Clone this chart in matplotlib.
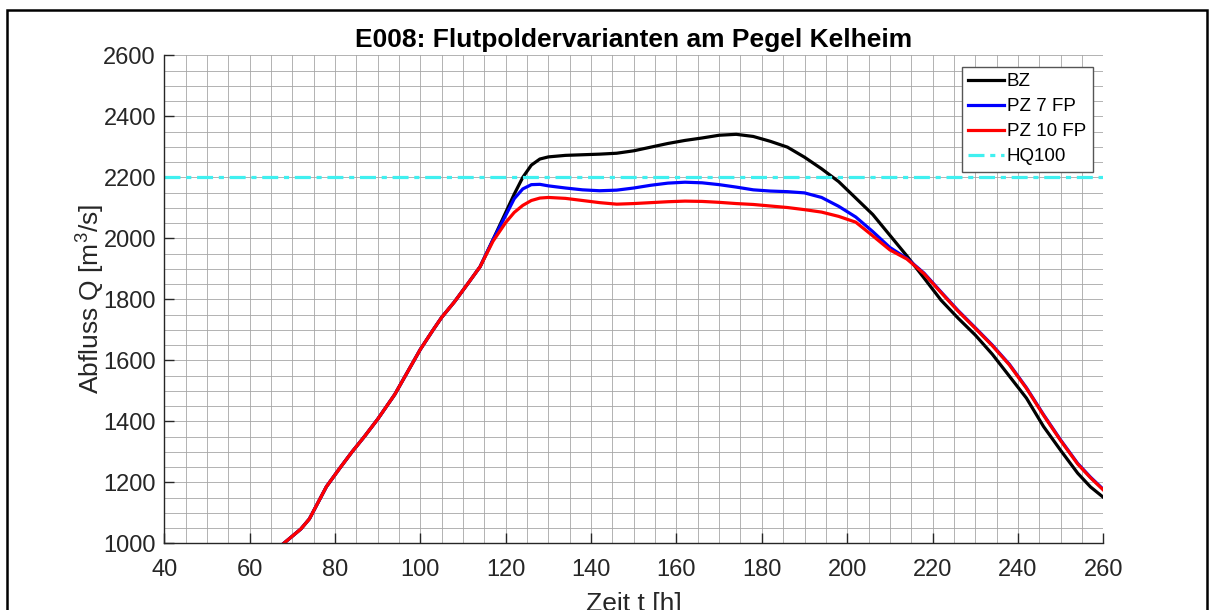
import numpy as np
import matplotlib
matplotlib.use("Agg")
import matplotlib.pyplot as plt
from matplotlib.patches import Rectangle

plt.rcParams["font.family"] = ["Liberation Sans", "DejaVu Sans"]
plt.rcParams["mathtext.fontset"] = "custom"
plt.rcParams["mathtext.rm"] = "Liberation Sans"
plt.rcParams["mathtext.it"] = "Liberation Sans:italic"

# time axis [h]
t = [68, 72, 74, 78, 81, 84, 87, 90, 94, 97, 100, 103, 105, 108, 111, 114,
     117, 120, 122, 124, 126, 128, 130, 134, 138, 142, 146, 150, 154, 158,
     162, 166, 170, 174, 178, 182, 186, 190, 194, 198, 202, 206, 210, 214,
     218, 222, 226, 230, 234, 238, 242, 246, 250, 254, 257, 260]

# rising limb shared by all variants
rise = [1000, 1047, 1080, 1186, 1244, 1300, 1352, 1407, 1488, 1562, 1636,
        1700, 1741, 1792, 1849, 1907]

q_bz = rise + [1995, 2085, 2145, 2200, 2240, 2260, 2267, 2272, 2274, 2276,
               2279, 2287, 2299, 2311, 2321, 2329, 2338, 2341, 2334, 2318,
               2299, 2266, 2228, 2186, 2132, 2078, 2010, 1942, 1870, 1797,
               1738, 1683, 1620, 1548, 1476, 1383, 1305, 1230, 1185, 1151]
q_pz7 = rise + [1995, 2075, 2130, 2162, 2176, 2177, 2172, 2165, 2159, 2156,
                2158, 2165, 2174, 2181, 2184, 2182, 2176, 2168, 2159, 2155,
                2153, 2149, 2134, 2105, 2070, 2022, 1970, 1934, 1886, 1824,
                1763, 1707, 1650, 1587, 1510, 1422, 1339, 1262, 1217, 1177]
q_pz10 = rise + [1990, 2052, 2085, 2108, 2124, 2132, 2134, 2131, 2124, 2117,
                 2112, 2114, 2117, 2120, 2122, 2121, 2118, 2114, 2111, 2106,
                 2101, 2094, 2086, 2072, 2053, 2008, 1962, 1932, 1884, 1822,
                 1761, 1705, 1648, 1585, 1508, 1420, 1337, 1260, 1215, 1175]
hq100 = 2200

fig = plt.figure(figsize=(12.14, 6.10), dpi=100)
ax = fig.add_axes([0.1353, 0.1093, 0.7735, 0.80])

ax.plot(t, q_bz, color="black", lw=2.3, label="BZ")
ax.plot(t, q_pz7, color="blue", lw=2.3, label="PZ 7 FP")
ax.plot(t, q_pz10, color="red", lw=2.3, label="PZ 10 FP")
ax.axhline(hq100, color="#40f0f0", lw=2.3, ls=(0, (5, 1.8, 1.6, 1.8)), label="HQ100")

ax.set_xlim(40, 260)
ax.set_ylim(1000, 2600)
ax.set_xticks(np.arange(40, 261, 20))
ax.set_yticks(np.arange(1000, 2601, 200))
ax.set_xticks(np.arange(40, 261, 5), minor=True)
ax.set_yticks(np.arange(1000, 2601, 50), minor=True)
ax.grid(which="both", color="#a6a6a6", lw=0.6)
ax.set_axisbelow(True)

ax.spines["top"].set_visible(False)
ax.spines["right"].set_visible(False)
for s in ("left", "bottom"):
    ax.spines[s].set_color("#262626")
    ax.spines[s].set_linewidth(1.0)
ax.tick_params(which="major", direction="in", length=7, width=1,
               color="#262626", labelcolor="#262626", labelsize=17)
ax.tick_params(axis="x", pad=11)
ax.tick_params(axis="y", pad=6)
ax.tick_params(which="minor", length=0)

ax.set_title("E008: Flutpoldervarianten am Pegel Kelheim",
             fontsize=19, fontweight="bold", pad=6)
ax.set_ylabel("Abfluss Q [m$^3$/s]", fontsize=19, color="#262626", labelpad=-3)
ax.set_xlabel("Zeit t [h]", fontsize=19, color="#262626", labelpad=8)

leg = ax.legend(loc="upper right", bbox_to_anchor=(0.9887, 0.9766),
                borderaxespad=0, fontsize=13.5, fancybox=False,
                framealpha=1, edgecolor="#555555", handlelength=1.9,
                handletextpad=0.15, borderpad=0.35, labelspacing=0.42)
leg.get_frame().set_linewidth(1.0)

# figure frame
fig.patches.append(Rectangle((7 / 1214, -0.1), 1200 / 1214, 1.1 - 10 / 610,
                             transform=fig.transFigure, fill=False,
                             edgecolor="black", lw=1.8))

fig.savefig("out.png", dpi=100)
